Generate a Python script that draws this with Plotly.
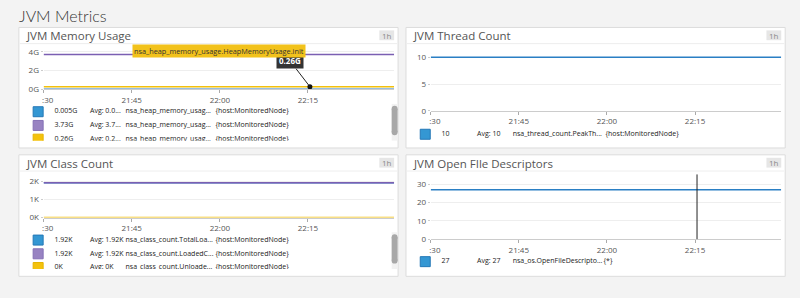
import plotly.graph_objects as go

W, H = 800, 298


def px(x):
    return x / W


def py(y):
    return 1 - y / H


# ---------------- data ----------------
dashboard_title = "JVM Metrics"
time_range = ["2024-05-01 21:30:00", "2024-05-01 22:29:40"]
times = ["2024-05-01 21:30:00", "2024-05-01 21:45:00", "2024-05-01 22:00:00",
         "2024-05-01 22:15:00", "2024-05-01 22:29:40"]
tick_times = ["2024-05-01 21:30:00", "2024-05-01 21:45:00",
              "2024-05-01 22:00:00", "2024-05-01 22:15:00"]
tick_labels = [":30", "21:45", "22:00", "22:15"]
hover_time = "2024-05-01 22:15:20"

# JVM Memory Usage (G)
mem_used = [0.005, 0.005, 0.005, 0.005, 0.005]
mem_max = [3.73, 3.73, 3.73, 3.73, 3.73]
mem_init = [0.26, 0.26, 0.26, 0.26, 0.26]
mem_hover_value = 0.26
mem_hover_label = "0.26G"
mem_hover_metric = "nsa_heap_memory_usage.HeapMemoryUsage.init"
mem_yticks = [0, 2, 4]
mem_yticklabels = ["0G", "2G", "4G"]
mem_leg_values = ["0.005G", "3.73G", "0.26G"]
mem_leg_avgs = ["Avg: 0.0...", "Avg: 3.7...", "Avg: 0.2..."]
mem_leg_names = ["nsa_heap_memory_usag...", "nsa_heap_memory_usag...", "nsa_heap_memory_usag..."]
mem_leg_tags = ["{host:MonitoredNode}", "{host:MonitoredNode}", "{host:MonitoredNode}"]

# JVM Thread Count
thr_peak = [10, 10, 10, 10, 10]
thr_yticks = [0, 5, 10]
thr_yticklabels = ["0", "5", "10"]
thr_leg_values = ["10"]
thr_leg_avgs = ["Avg: 10"]
thr_leg_names = ["nsa_thread_count.PeakTh..."]
thr_leg_tags = ["{host:MonitoredNode}"]

# JVM Class Count
cls_total = [1920, 1920, 1920, 1920, 1920]
cls_loaded = [1920, 1920, 1920, 1920, 1920]
cls_unloaded = [0, 0, 0, 0, 0]
cls_yticks = [0, 1000, 2000]
cls_yticklabels = ["0K", "1K", "2K"]
cls_leg_values = ["1.92K", "1.92K", "0K"]
cls_leg_avgs = ["Avg: 1.92K", "Avg: 1.92K", "Avg: 0K"]
cls_leg_names = ["nsa_class_count.TotalLoa...", "nsa_class_count.LoadedC...", "nsa_class_count.Unloade..."]
cls_leg_tags = ["{host:MonitoredNode}", "{host:MonitoredNode}", "{host:MonitoredNode}"]

# JVM Open File Descriptors
fd_open = [27, 27, 27, 27, 27]
fd_yticks = [0, 10, 20, 30]
fd_yticklabels = ["0", "10", "20", "30"]
fd_leg_values = ["27"]
fd_leg_avgs = ["Avg: 27"]
fd_leg_names = ["nsa_os.OpenFileDescripto..."]
fd_leg_tags = ["{*}"]

# ---------------- styles ----------------
FONT = "Open Sans"
BLUE_LINE, BLUE_FILL, BLUE_EDGE = "#2a7fc4", "#3497d3", "#2478b6"
PURP_LINE, PURP_FILL, PURP_EDGE = "#7b5fb2", "#9883c2", "#8570b5"
YELL_LINE, YELL_FILL, YELL_EDGE = "#f2c00c", "#f4c20d", "#e5b400"

panels = [
    dict(title="JVM Memory Usage", box=(9, 393, 27, 150), plot=(34, 389, 47, 90),
         ymax=4.526, yt=mem_yticks, ytl=mem_yticklabels,
         series=[(mem_used, BLUE_LINE), (mem_max, PURP_LINE), (mem_init, YELL_LINE)],
         leg=(104, 142.5, 113), tagdx=199,
         legrows=list(zip(mem_leg_values, mem_leg_avgs, mem_leg_names, mem_leg_tags)),
         legcol=[(BLUE_FILL, BLUE_EDGE), (PURP_FILL, PURP_EDGE), (YELL_FILL, YELL_EDGE)],
         scroll=True),
    dict(title="JVM Thread Count", box=(401, 785, 27, 150), plot=(426, 781, 47, 112),
         ymax=11.93, yt=thr_yticks, ytl=thr_yticklabels,
         series=[(thr_peak, BLUE_LINE)],
         leg=(126, 149, 136), tagdx=202,
         legrows=list(zip(thr_leg_values, thr_leg_avgs, thr_leg_names, thr_leg_tags)),
         legcol=[(BLUE_FILL, BLUE_EDGE)], scroll=False),
    dict(title="JVM Class Count", box=(9, 393, 157, 281), plot=(34, 389, 176, 221),
         ymax=2430, yt=cls_yticks, ytl=cls_yticklabels,
         series=[(cls_total, BLUE_LINE), (cls_loaded, PURP_LINE), (cls_unloaded, YELL_LINE)],
         leg=(235, 273.5, 244), tagdx=199,
         legrows=list(zip(cls_leg_values, cls_leg_avgs, cls_leg_names, cls_leg_tags)),
         legcol=[(BLUE_FILL, BLUE_EDGE), (PURP_FILL, PURP_EDGE), (YELL_FILL, YELL_EDGE)],
         scroll=True),
    dict(title="JVM Open FIle Descriptors", box=(401, 785, 157, 281), plot=(426, 781, 177, 243),
         ymax=35.4, yt=fd_yticks, ytl=fd_yticklabels,
         series=[(fd_open, BLUE_LINE)],
         leg=(256, 280, 266), tagdx=200,
         legrows=list(zip(fd_leg_values, fd_leg_avgs, fd_leg_names, fd_leg_tags)),
         legcol=[(BLUE_FILL, BLUE_EDGE)], scroll=False),
]

fig = go.Figure()
shapes = []
annotations = []
layout_axes = {}

annotations.append(dict(text=dashboard_title, x=px(7), y=py(15), xref="paper", yref="paper",
                        xanchor="left", yanchor="middle", showarrow=False,
                        font=dict(family="Lato", size=16, color="#333", weight=300)))

ticktext = ["\u00a0" * 4 + tick_labels[0]] + tick_labels[1:]

for i, p in enumerate(panels):
    n = i + 1
    ln = i + 5
    bx0, bx1, by0, by1 = p["box"]
    shapes.append(dict(type="rect", xref="paper", yref="paper", layer="below",
                       x0=px(bx0), x1=px(bx1), y0=py(by1), y1=py(by0),
                       fillcolor="white", line=dict(color="#dcdcdc", width=1)))
    shapes.append(dict(type="line", xref="paper", yref="paper", layer="below",
                       x0=px(bx0 + 1), x1=px(bx1 - 1), y0=py(by0 + 16.5), y1=py(by0 + 16.5),
                       line=dict(color="#eeeeee", width=1)))
    shapes.append(dict(type="rect", xref="paper", yref="paper", layer="below",
                       x0=px(bx1 - 19), x1=px(bx1 - 4), y0=py(by0 + 13), y1=py(by0 + 3),
                       fillcolor="#e6e6e6", line=dict(width=0)))
    annotations.append(dict(text="1h", x=px(bx1 - 11.5), y=py(by0 + 8), xref="paper", yref="paper",
                            showarrow=False, xanchor="center", yanchor="middle",
                            font=dict(family=FONT, size=8, color="#888")))
    annotations.append(dict(text=p["title"], x=px(bx0 + 5), y=py(by0 + 8.5), xref="paper",
                            yref="paper", showarrow=False, xanchor="left", yanchor="middle",
                            font=dict(family=FONT, size=11.5, color="#555")))

    x0, x1, y0, y1 = p["plot"]
    layout_axes["xaxis%d" % n] = dict(
        type="date", range=time_range, domain=[px(x0), px(x1)], anchor="y%d" % n,
        tickvals=tick_times, ticktext=ticktext, ticks="outside", ticklen=3,
        tickcolor="#aaaaaa", showline=True, linecolor="#cccccc", linewidth=1,
        showgrid=False, zeroline=False, tickfont=dict(family=FONT, size=8, color="#555"),
        fixedrange=True)
    layout_axes["yaxis%d" % n] = dict(
        range=[0, p["ymax"]], domain=[py(y1), py(y0)], anchor="x%d" % n,
        tickvals=p["yt"], ticktext=p["ytl"], showgrid=True, gridcolor="#eeeeee",
        zeroline=False, showline=False, ticks="outside", ticklen=2, tickcolor="#cccccc",
        tickfont=dict(family=FONT, size=8, color="#555"), fixedrange=True)

    for vals, col in p["series"]:
        fig.add_trace(go.Scatter(x=times, y=vals, mode="lines", line=dict(color=col, width=1.5),
                                 xaxis="x%d" % n, yaxis="y%d" % n, hoverinfo="skip",
                                 showlegend=False))

    # legend area as its own clipped axis (pixel units)
    lt, lb, r0 = p["leg"]
    layout_axes["xaxis%d" % ln] = dict(domain=[px(bx0), px(bx1 - 10)], range=[bx0, bx1 - 10],
                                       visible=False, anchor="y%d" % ln, fixedrange=True)
    layout_axes["yaxis%d" % ln] = dict(domain=[py(lb), py(lt)], range=[lb, lt],
                                       visible=False, anchor="x%d" % ln, fixedrange=True)
    rows = p["legrows"]
    ys = [r0 + 14 * k for k in range(len(rows))]
    fig.add_trace(go.Scatter(
        x=[bx0 + 19.5] * len(rows), y=ys, mode="markers", xaxis="x%d" % ln, yaxis="y%d" % ln,
        marker=dict(symbol="square", size=10,
                    color=[c[0] for c in p["legcol"]],
                    line=dict(color=[c[1] for c in p["legcol"]], width=1)),
        hoverinfo="skip", showlegend=False, cliponaxis=True))
    cols = [(36, 0), (72, 1), (108, 2), (p["tagdx"], 3)]
    for dx, ci in cols:
        fig.add_trace(go.Scatter(
            x=[bx0 + dx] * len(rows), y=ys, mode="text", text=[r[ci] for r in rows],
            textposition="middle right", textfont=dict(family=FONT, size=7, color="#222"),
            xaxis="x%d" % ln, yaxis="y%d" % ln, hoverinfo="skip", showlegend=False,
            cliponaxis=True))

    if p["scroll"]:
        sx0, sx1 = bx1 - 6.5, bx1 - 0.5
        shapes.append(dict(type="rect", xref="paper", yref="paper", layer="above",
                           x0=px(sx0), x1=px(sx1), y0=py(lb), y1=py(lt + 1),
                           fillcolor="#f2f2f2", line=dict(width=0)))
        ptop, pbot = lt + 3, lt + 33
        shapes.append(dict(type="rect", xref="paper", yref="paper", layer="above",
                           x0=px(sx0), x1=px(sx1), y0=py(pbot - 3), y1=py(ptop + 3),
                           fillcolor="#a8a8a8", line=dict(width=0)))
        for cy in (ptop + 3, pbot - 3):
            shapes.append(dict(type="circle", xref="paper", yref="paper", layer="above",
                               x0=px(sx0), x1=px(sx1), y0=py(cy + 3), y1=py(cy - 3),
                               fillcolor="#a8a8a8", line=dict(width=0)))

# hover marker on memory chart
fig.add_trace(go.Scatter(x=[hover_time], y=[mem_hover_value], mode="markers",
                         marker=dict(color="#111", size=5), xaxis="x1", yaxis="y1",
                         hoverinfo="skip", showlegend=False, cliponaxis=False))
annotations.append(dict(text="<b>%s</b>" % mem_hover_label, x=hover_time, y=mem_hover_value,
                        xref="x1", yref="y1", showarrow=True, arrowhead=0, arrowwidth=1,
                        arrowcolor="#222", ax=-20, ay=-26, bgcolor="#333", borderpad=2,
                        font=dict(family=FONT, size=8, color="white")))
annotations.append(dict(text=mem_hover_metric, x=hover_time, y=mem_hover_value,
                        xref="x1", yref="y1", showarrow=False, xshift=-91, yshift=36,
                        bgcolor="#f2c21b", borderpad=1,
                        font=dict(family=FONT, size=7.3, color="#333")))
# hover crosshair on file descriptor chart
shapes.append(dict(type="line", xref="x4", yref="y4 domain", x0=hover_time, x1=hover_time,
                   y0=0, y1=1, line=dict(color="#222", width=1), layer="above"))

fig.update_layout(width=W, height=H, margin=dict(l=0, r=0, t=0, b=0),
                  paper_bgcolor="#f3f3f3", plot_bgcolor="rgba(0,0,0,0)",
                  showlegend=False, shapes=shapes, annotations=annotations,
                  font=dict(family=FONT), **layout_axes)

fig.write_html("out.html", config=dict(displayModeBar=False, staticPlot=True))
